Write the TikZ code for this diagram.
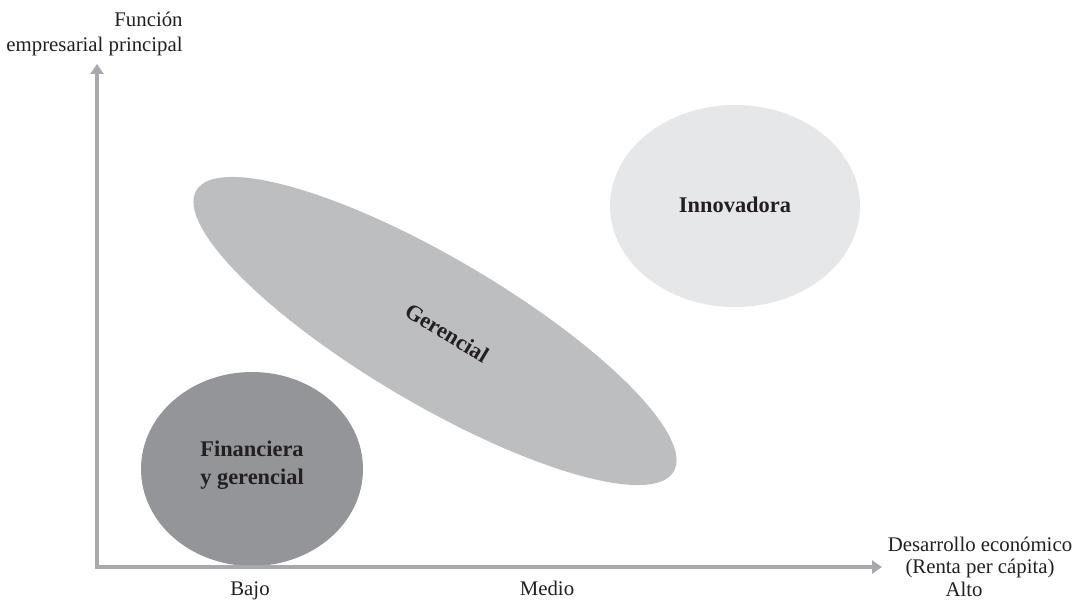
\documentclass[tikz,border=0pt]{standalone}
\usepackage{fontspec}
\setmainfont{Liberation Serif}
\usetikzlibrary{arrows.meta}
\definecolor{ejegris}{HTML}{A7A9AC}
\definecolor{grisoscuro}{HTML}{939598}
\definecolor{grismedio}{HTML}{BCBEC0}
\definecolor{grisclaro}{HTML}{E6E7E8}
\definecolor{texto}{HTML}{231F20}

\begin{document}
\begin{tikzpicture}[x=0.5pt,y=0.5pt,
	etiqueta/.style={font=\fontsize{10.4}{12.5}\selectfont,text=texto,inner sep=0pt},
	region/.style={font=\bfseries\fontsize{11.2}{14}\selectfont,text=texto,inner sep=0pt,align=center},
	eje/.style={ejegris,line width=2pt,line join=miter,{Triangle[length=5pt,width=6.5pt]}-{Triangle[length=5pt,width=6.5pt]}}]
	\useasboundingbox (0,0) rectangle (1074,601);
	% regiones
	\fill[grisoscuro] (252,132) ellipse [x radius=111, y radius=97];
	\fill[grismedio] (435,270) ellipse [x radius=277, y radius=73, rotate=-30.5];
	\fill[grisclaro] (735,395) ellipse [x radius=125, y radius=101];
	\node[region] (fin) at (252,136) {Financiera\\y gerencial};
	\node[region,rotate=-31] (ger) at (447,268) {Gerencial};
	\node[region] (inn) at (735,396) {Innovadora};
	% ejes
	\coordinate (o) at (97,34);
	\coordinate (ytip) at (97,537);
	\coordinate (xtip) at (882,34);
	\draw[eje] (ytip) -- (o) -- (xtip);
	\node[etiqueta,align=right,anchor=east] (fun) at (183,567) {Función\\empresarial principal};
	\node[etiqueta,align=center,font=\fontsize{10.4}{11}\selectfont] (des) at (980,44) {Desarrollo económico\\(Renta per cápita)};
	\node[etiqueta,anchor=base] (bajo) at (250,6) {Bajo};
	\node[etiqueta,anchor=base] (medio) at (547,6) {Medio};
	\node[etiqueta,anchor=base] (alto) at (964,5) {Alto};
\end{tikzpicture}
\end{document}
